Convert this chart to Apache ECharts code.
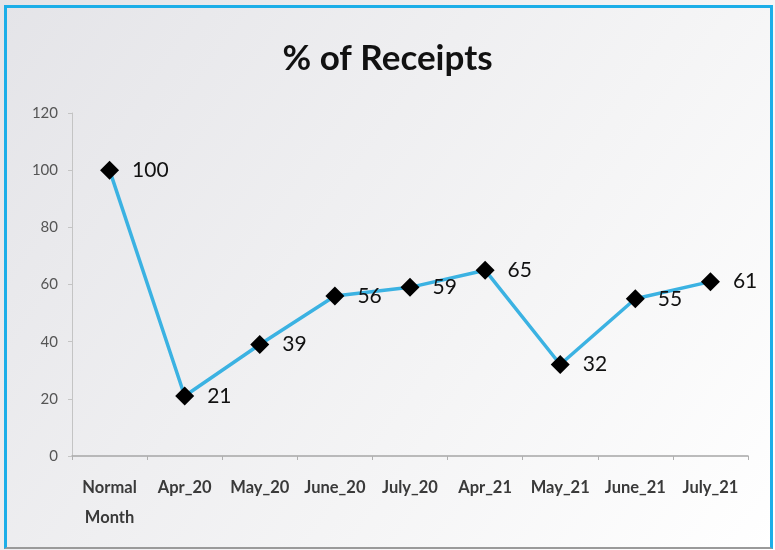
<!DOCTYPE html>
<html>
<head>
<meta charset="utf-8">
<script src="https://cdn.jsdelivr.net/npm/echarts@6/dist/echarts.min.js"></script>
<style>
    html, body {margin: 0; padding: 0; background: #ffffff;}
    #frame {
        position: absolute; left: 4px; top: 5px; width: 763px; height: 539px;
        border-top: 3px solid #1caee8; border-left: 3px solid #1caee8;
        border-right: 3px solid #1caee8; border-bottom: 2px solid #9a9a9a;
    }
    #chartDiv {position: absolute; left: 0; top: 0; width: 775px; height: 550px;}
</style>
</head>
<body>
<div id="chartDiv"></div>
<div id="frame"></div>
<script>
    var months = ['Normal\nMonth', 'Apr_20', 'May_20', 'June_20', 'July_20', 'Apr_21', 'May_21', 'June_21', 'July_21'];
    var receipts = [100, 21, 39, 56, 59, 65, 32, 55, 61];
    var yTicks = {min: 0, max: 120, interval: 20};

    var chart = echarts.init(document.getElementById('chartDiv'));
    var option = {
        backgroundColor: {
            type: 'linear', x: 0, y: 0, x2: 1, y2: 1,
            colorStops: [{offset: 0, color: '#e4e4e8'}, {offset: 0.6, color: '#f4f4f5'}, {offset: 1, color: '#ffffff'}]
        },
        title: {
            text: '% of Receipts',
            left: 'center',
            top: 36,
            textStyle: {fontFamily: 'Lato', fontWeight: 'bold', fontSize: 35, color: '#111111'}
        },
        grid: {left: 72, right: 27, top: 113, bottom: 94},
        xAxis: {
            type: 'category',
            data: months,
            boundaryGap: true,
            axisLine: {lineStyle: {color: '#a6a6a6', width: 1.5}},
            axisTick: {show: true, length: 4, lineStyle: {color: '#b0b0b0'}},
            axisLabel: {
                color: '#3a3a3a', fontFamily: 'Lato', fontWeight: 'bold', fontSize: 16.5,
                margin: 17, lineHeight: 30, interval: 0
            }
        },
        yAxis: {
            type: 'value',
            min: yTicks.min,
            max: yTicks.max,
            interval: yTicks.interval,
            axisLine: {show: true, lineStyle: {color: '#c4c4c4'}},
            axisTick: {show: true, length: 4, lineStyle: {color: '#c4c4c4'}},
            splitLine: {show: false},
            axisLabel: {color: '#555555', fontFamily: 'Lato', fontSize: 15, margin: 14}
        },
        series: [{
            name: '% of Receipts',
            type: 'line',
            data: receipts,
            symbol: 'diamond',
            symbolSize: 19,
            itemStyle: {color: '#000000'},
            lineStyle: {color: '#3bb2e2', width: 3.5},
            label: {
                show: true, position: 'right', distance: 13,
                color: '#111111', fontFamily: 'Lato', fontSize: 21
            },
            animation: false
        }]
    };
    chart.setOption(option);
</script>
</body>
</html>
